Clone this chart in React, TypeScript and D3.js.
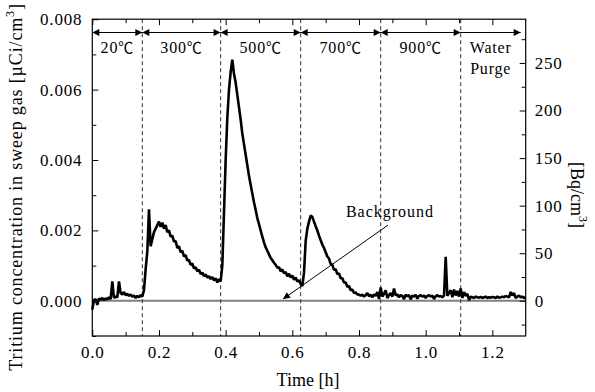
import { useEffect, useRef } from 'react';
import * as d3 from 'd3';

const W = 595;
const H = 392;

// sampling step of the trace (h)
const STEP = 0.005;
// tritium concentration, 1e-3 µCi/cm3, one value per STEP from 0 to 1.3 h
const CONC = [
  -0.25, 0.02, 0.05, -0.12, 0.06, 0.03, 0.08, 0.02, 0.07, 0.04,
  0.10, 0.05, 0.55, 0.08, 0.12, 0.10, 0.55, 0.22, 0.18, 0.25,
  0.16, 0.20, 0.14, 0.18, 0.12, 0.15, 0.08, 0.14, 0.10, 0.16,
  0.12, 0.30, 0.90, 1.40, 2.60, 1.55, 1.75, 1.95, 2.05, 2.15,
  2.25, 2.10, 2.22, 2.05, 2.15, 1.95, 2.00, 1.82, 1.85, 1.68,
  1.70, 1.50, 1.55, 1.38, 1.42, 1.26, 1.30, 1.14, 1.16, 1.02,
  1.06, 0.92, 0.95, 0.84, 0.88, 0.76, 0.80, 0.70, 0.75, 0.66,
  0.70, 0.62, 0.67, 0.58, 0.64, 0.52, 0.62, 0.55, 1.00, 2.50,
  4.00, 5.20, 6.00, 6.50, 6.85, 6.45, 6.20, 5.85, 5.50, 5.15,
  4.75, 4.45, 4.15, 3.85, 3.55, 3.30, 3.05, 2.80, 2.58, 2.35,
  2.18, 2.00, 1.82, 1.66, 1.52, 1.42, 1.32, 1.22, 1.15, 1.08,
  1.02, 0.94, 0.95, 0.84, 0.89, 0.78, 0.82, 0.70, 0.77, 0.66,
  0.72, 0.60, 0.66, 0.55, 0.58, 0.48, 0.42, 0.80, 1.70, 2.05,
  2.25, 2.42, 2.38, 2.25, 2.12, 2.00, 1.85, 1.72, 1.60, 1.50,
  1.38, 1.26, 1.20, 1.05, 1.02, 0.88, 0.90, 0.76, 0.78, 0.64,
  0.64, 0.52, 0.52, 0.40, 0.42, 0.30, 0.32, 0.22, 0.24, 0.18,
  0.18, 0.14, 0.18, 0.12, 0.16, 0.22, 0.13, 0.17, 0.10, 0.18,
  0.14, 0.25, 0.05, 0.38, 0.12, 0.20, 0.30, 0.08, 0.16, 0.22,
  0.12, 0.35, 0.15, 0.18, 0.10, 0.16, 0.14, 0.05, 0.17, 0.13,
  0.16, 0.04, 0.15, 0.12, 0.17, 0.06, 0.14, 0.16, 0.12, 0.15,
  0.08, 0.14, 0.16, 0.12, 0.15, 0.05, 0.13, 0.16, 0.12, 0.14,
  0.10, 0.15, 1.25, 0.14, 0.22, 0.30, 0.10, 0.32, 0.15, 0.28,
  0.12, 0.35, 0.08, 0.25, 0.14, 0.20, 0.02, 0.12, 0.10, 0.08,
  0.12, 0.10, 0.09, 0.11, 0.08, 0.10, 0.12, 0.08, 0.10, 0.09,
  0.11, 0.10, 0.08, 0.12, 0.09, 0.10, 0.12, 0.10, 0.14, 0.12,
  0.10, 0.25, 0.15, 0.22, 0.08, 0.12, 0.15, 0.10, 0.12, 0.08,
  0.10,
];

// heating stages: boundaries in h and labels
const STAGE_EDGES = [0, 0.15, 0.385, 0.625, 0.865, 1.105, 1.285];
const STAGE_LABELS = ['20℃', '300℃', '500℃', '700℃', '900℃', 'Water|Purge'];

const X_TICKS = [0, 0.2, 0.4, 0.6, 0.8, 1.0, 1.2];
const Y_TICKS = [0, 0.002, 0.004, 0.006, 0.008];
const BQ_TICKS = [0, 50, 100, 150, 200, 250];
const BQ_PER_UCI = 37000;

// "Background" pointer: from (h, µCi/cm3) to (h, µCi/cm3)
const BG_ARROW = [
  [0.887, 0.00215],
  [0.572, 0.00005],
];

const FONT = "'Times New Roman', 'Liberation Serif', Times, serif";
const CJK = "'Noto Sans CJK JP', sans-serif";

export default function App() {
  const svgRef = useRef<SVGSVGElement>(null);

  useEffect(() => {
    if (!svgRef.current) return;
    const svg = d3.select(svgRef.current);
    svg.selectAll('*').remove();

    const left = 92.3;
    const right = 525.7;
    const top = 19.2;
    const bottom = 336;

    const x = d3.scaleLinear().domain([0, 1.3]).range([left, right]);
    const y = d3.scaleLinear().domain([-0.001, 0.008]).range([bottom, top]);
    const yBq = d3.scaleLinear().domain([-0.001 * BQ_PER_UCI, 0.008 * BQ_PER_UCI]).range([bottom, top]);

    const defs = svg.append('defs');
    defs
      .append('marker')
      .attr('id', 'ah')
      .attr('viewBox', '0 0 10 10')
      .attr('refX', 10)
      .attr('refY', 5)
      .attr('markerUnits', 'userSpaceOnUse')
      .attr('markerWidth', 9)
      .attr('markerHeight', 7)
      .attr('orient', 'auto-start-reverse')
      .append('path')
      .attr('d', 'M0,0L10,5L0,10z')
      .attr('fill', '#000');

    // background (zero) line
    svg
      .append('line')
      .attr('x1', x(0))
      .attr('x2', x(1.3))
      .attr('y1', y(0))
      .attr('y2', y(0))
      .attr('stroke', '#808080')
      .attr('stroke-width', 2);

    // stage separators
    svg
      .selectAll('line.sep')
      .data(STAGE_EDGES.slice(1, -1))
      .join('line')
      .attr('class', 'sep')
      .attr('x1', (d) => x(d))
      .attr('x2', (d) => x(d))
      .attr('y1', top)
      .attr('y2', bottom)
      .attr('stroke', '#333')
      .attr('stroke-width', 1)
      .attr('stroke-dasharray', '4,3');

    // trace
    const line = d3
      .line<number>()
      .x((_, i) => x(i * STEP))
      .y((d) => y(d * 1e-3));
    svg
      .append('path')
      .attr('d', line(CONC))
      .attr('fill', 'none')
      .attr('stroke', '#000')
      .attr('stroke-width', 2.6)
      .attr('stroke-linejoin', 'bevel');

    // stage arrows
    const arrowY = 32.5;
    d3.pairs(STAGE_EDGES).forEach(([a, b], i) => {
      const isLast = i === STAGE_EDGES.length - 2;
      const l = svg
        .append('line')
        .attr('x1', x(a))
        .attr('x2', x(b))
        .attr('y1', arrowY)
        .attr('y2', arrowY)
        .attr('stroke', '#000')
        .attr('stroke-width', 1)
        .attr('marker-end', 'url(#ah)');
      if (!isLast) l.attr('marker-start', 'url(#ah)');
      const parts = STAGE_LABELS[i].split('|');
      parts.forEach((p, k) => {
        const t = svg
          .append('text')
          .attr('x', x((a + b) / 2))
          .attr('y', 53 + k * 21)
          .attr('text-anchor', 'middle')
          .attr('font-family', FONT)
          .attr('font-size', 16)
          .attr('letter-spacing', 0.8);
        if (p.endsWith('℃')) {
          t.append('tspan').text(p.slice(0, -1));
          t.append('tspan').attr('font-family', CJK).attr('font-size', 15).text('℃');
        } else {
          t.text(p);
        }
      });
    });

    // background annotation
    svg
      .append('line')
      .attr('x1', x(BG_ARROW[0][0]))
      .attr('y1', y(BG_ARROW[0][1]))
      .attr('x2', x(BG_ARROW[1][0]))
      .attr('y2', y(BG_ARROW[1][1]))
      .attr('stroke', '#000')
      .attr('stroke-width', 1)
      .attr('marker-end', 'url(#ah)');
    svg
      .append('text')
      .attr('x', 390)
      .attr('y', 217)
      .attr('text-anchor', 'middle')
      .attr('font-family', FONT)
      .attr('font-size', 16)
      .attr('letter-spacing', 1)
      .text('Background');

    // axes
    const minorX = d3.range(1, 13, 2).map((v) => v / 10);
    const styleAxis = (g: d3.Selection<SVGGElement, unknown, null, undefined>) => {
      g.select('.domain').remove();
      g.selectAll('line').attr('stroke', '#000');
      g.selectAll('text')
        .attr('font-family', FONT)
        .attr('font-size', 17)
        .attr('letter-spacing', 0.8)
        .attr('fill', '#000');
    };

    svg
      .append('g')
      .attr('transform', `translate(0,${bottom})`)
      .call(d3.axisBottom(x).tickValues(X_TICKS).tickSize(-6).tickPadding(10).tickFormat(d3.format('.1f')))
      .call(styleAxis);
    svg
      .append('g')
      .attr('transform', `translate(0,${bottom})`)
      .call(d3.axisBottom(x).tickValues(minorX).tickSize(-4).tickFormat(() => ''))
      .call(styleAxis);
    svg
      .append('g')
      .attr('transform', `translate(0,${top})`)
      .call(d3.axisTop(x).tickValues(X_TICKS).tickSize(-6).tickFormat(() => ''))
      .call(styleAxis);
    svg
      .append('g')
      .attr('transform', `translate(0,${top})`)
      .call(d3.axisTop(x).tickValues(minorX).tickSize(-4).tickFormat(() => ''))
      .call(styleAxis);

    svg
      .append('g')
      .attr('transform', `translate(${left},0)`)
      .call(d3.axisLeft(y).tickValues(Y_TICKS).tickSize(-6).tickPadding(10).tickFormat(d3.format('.3f')))
      .call(styleAxis);
    svg
      .append('g')
      .attr('transform', `translate(${left},0)`)
      .call(d3.axisLeft(y).tickValues([-0.001, 0.001, 0.003, 0.005, 0.007]).tickSize(-4).tickFormat(() => ''))
      .call(styleAxis);

    svg
      .append('g')
      .attr('transform', `translate(${right},0)`)
      .call(d3.axisRight(yBq).tickValues(BQ_TICKS).tickSize(-6).tickPadding(9).tickFormat(d3.format('d')))
      .call(styleAxis);
    svg
      .append('g')
      .attr('transform', `translate(${right},0)`)
      .call(d3.axisRight(yBq).tickValues([-25, 25, 75, 125, 175, 225, 275]).tickSize(-4).tickFormat(() => ''))
      .call(styleAxis);

    // frame
    svg
      .append('rect')
      .attr('x', left)
      .attr('y', top)
      .attr('width', right - left)
      .attr('height', bottom - top)
      .attr('fill', 'none')
      .attr('stroke', '#000')
      .attr('stroke-width', 1.2);

    // titles
    svg
      .append('text')
      .attr('x', (left + right) / 2 - 1)
      .attr('y', 386)
      .attr('text-anchor', 'middle')
      .attr('font-family', FONT)
      .attr('font-size', 18)
      .text('Time [h]');

    const yt = svg
      .append('text')
      .attr('transform', 'translate(22,187) rotate(-90)')
      .attr('text-anchor', 'middle')
      .attr('font-family', FONT)
      .attr('font-size', 18)
      .attr('letter-spacing', 0.85);
    yt.append('tspan').text('Tritium concentration in sweep gas [µCi/cm');
    yt.append('tspan').attr('font-size', 12).attr('dy', -8).text('3');
    yt.append('tspan').attr('dy', 8).text(']');

    const rt = svg
      .append('text')
      .attr('transform', 'translate(571,195) rotate(90)')
      .attr('text-anchor', 'middle')
      .attr('font-family', FONT)
      .attr('font-size', 18);
    rt.append('tspan').text('[Bq/cm');
    rt.append('tspan').attr('font-size', 12).attr('dy', -8).text('3');
    rt.append('tspan').attr('dy', 8).text(']');
  }, []);

  return (
    <svg
      ref={svgRef}
      width={W}
      height={H}
      style={{ position: 'absolute', left: 0, top: 0, background: '#fff' }}
    />
  );
}
